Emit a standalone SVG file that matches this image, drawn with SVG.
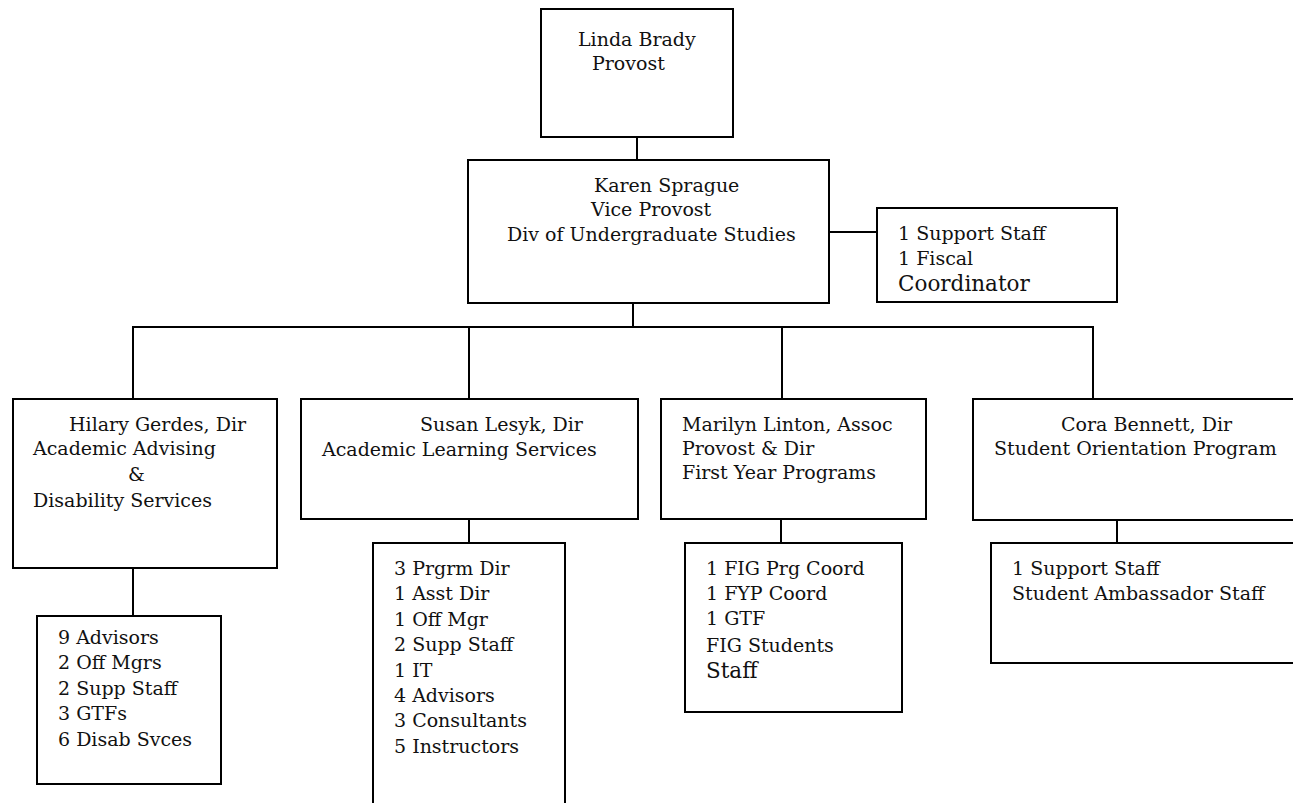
<svg xmlns="http://www.w3.org/2000/svg" width="1293" height="803" viewBox="0 0 1293 803">
<style>
rect.box{fill:#fff;stroke:#000;stroke-width:2}
.c line,.c path{stroke:#000;stroke-width:2;fill:none}
text{font-family:"DejaVu Serif","Liberation Serif",serif;font-size:19px;fill:#111}
text.big{font-size:21.5px}
</style>
<rect width="1293" height="803" fill="#fff"/>
<g class="c" id="connectors">
<line x1="637" y1="137" x2="637" y2="160"/>
<line x1="829" y1="232" x2="877" y2="232"/>
<line x1="633" y1="303" x2="633" y2="327"/>
<path d="M133 399 V327 H1093 V399"/>
<line x1="469" y1="327" x2="469" y2="399"/>
<line x1="782" y1="327" x2="782" y2="399"/>
<line x1="133" y1="568" x2="133" y2="616"/>
<line x1="469" y1="519" x2="469" y2="543"/>
<line x1="781" y1="519" x2="781" y2="543"/>
<line x1="1117" y1="520" x2="1117" y2="543"/>
</g>
<g id="provost">
<rect class="box" x="541" y="9" width="192" height="128"/>
<text x="578" y="46">Linda Brady</text>
<text x="592" y="70">Provost</text>
</g>
<g id="vice-provost">
<rect class="box" x="468" y="160" width="361" height="143"/>
<text x="594" y="192">Karen Sprague</text>
<text x="591" y="216">Vice Provost</text>
<text x="507" y="241">Div of Undergraduate Studies</text>
</g>
<g id="support">
<rect class="box" x="877" y="208" width="240" height="94"/>
<text x="898" y="240">1 Support Staff</text>
<text x="898" y="265">1 Fiscal</text>
<text class="big" x="898" y="291">Coordinator</text>
</g>
<g id="advising">
<rect class="box" x="13" y="399" width="264" height="169"/>
<text x="69" y="431">Hilary Gerdes, Dir</text>
<text x="33" y="455">Academic Advising</text>
<text x="128" y="481">&amp;</text>
<text x="33" y="507">Disability Services</text>
</g>
<g id="advising-staff">
<rect class="box" x="37" y="616" width="184" height="168"/>
<text x="58" y="644">9 Advisors</text>
<text x="58" y="669">2 Off Mgrs</text>
<text x="58" y="695">2 Supp Staff</text>
<text x="58" y="720">3 GTFs</text>
<text x="58" y="746">6 Disab Svces</text>
</g>
<g id="learning">
<rect class="box" x="301" y="399" width="337" height="120"/>
<text x="420" y="431">Susan Lesyk, Dir</text>
<text x="322" y="456">Academic Learning Services</text>
</g>
<g id="learning-staff">
<rect class="box" x="373" y="543" width="192" height="270"/>
<text x="394" y="575">3 Prgrm Dir</text>
<text x="394" y="600">1 Asst Dir</text>
<text x="394" y="626">1 Off Mgr</text>
<text x="394" y="651">2 Supp Staff</text>
<text x="394" y="677">1 IT</text>
<text x="394" y="702">4 Advisors</text>
<text x="394" y="727">3 Consultants</text>
<text x="394" y="753">5 Instructors</text>
</g>
<g id="first-year">
<rect class="box" x="661" y="399" width="265" height="120"/>
<text x="682" y="431">Marilyn Linton, Assoc</text>
<text x="682" y="455">Provost &amp; Dir</text>
<text x="682" y="479">First Year Programs</text>
</g>
<g id="first-year-staff">
<rect class="box" x="685" y="543" width="217" height="169"/>
<text x="706" y="575">1 FIG Prg Coord</text>
<text x="706" y="600">1 FYP Coord</text>
<text x="706" y="625">1 GTF</text>
<text x="706" y="652">FIG Students</text>
<text class="big" x="706" y="678">Staff</text>
</g>
<g id="orientation">
<rect class="box" x="973" y="399" width="330" height="121"/>
<text x="1061" y="431">Cora Bennett, Dir</text>
<text x="994" y="455">Student Orientation Program</text>
</g>
<g id="orientation-staff">
<rect class="box" x="991" y="543" width="312" height="120"/>
<text x="1012" y="575">1 Support Staff</text>
<text x="1012" y="600">Student Ambassador Staff</text>
</g>
</svg>
